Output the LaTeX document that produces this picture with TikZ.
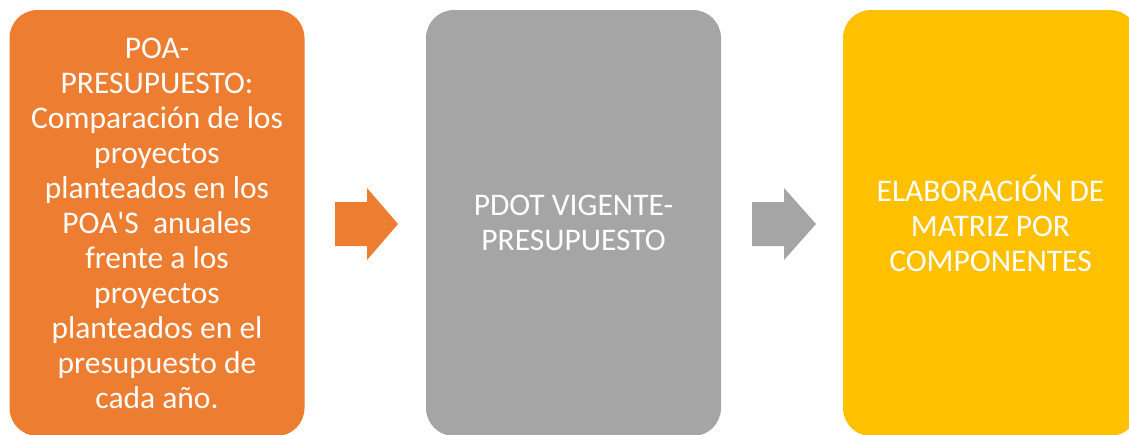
\documentclass[tikz,border=0pt]{standalone}
\usepackage{fontspec}
\setmainfont{Carlito}[Ligatures=TeXOff]
\definecolor{boxorange}{HTML}{ED7D31}
\definecolor{boxgray}{HTML}{A5A5A5}
\definecolor{boxyellow}{HTML}{FFC000}
\begin{document}
\begin{tikzpicture}[x=1pt,y=-1pt,
  panel/.style={rectangle, rounded corners=28pt, minimum width=295pt, minimum height=426pt,
    inner sep=0pt, text=white, align=center,
    font=\fontsize{31.5pt}{35pt}\selectfont},
  blockarrow/.style={draw=none}]
\useasboundingbox (0,0) rectangle (1129,434);
\node[panel, fill=boxorange] (a) at (157,223) {POA-\\PRESUPUESTO:\\Comparación de los\\proyectos\\planteados en los\\POA'S~~anuales\\frente a los\\proyectos\\planteados en el\\presupuesto de\\cada año.};
\node[panel, fill=boxgray] (b) at (573.5,223) {PDOT VIGENTE-\\PRESUPUESTO};
\node[panel, fill=boxyellow] (c) at (990.5,223) {ELABORACIÓN DE\\MATRIZ POR\\COMPONENTES};
\fill[boxorange] (335,202) -- (367,202) -- (367,188) -- (398,224) -- (367,260) -- (367,246) -- (335,246) -- cycle;
\fill[boxgray] (752,202) -- (784,202) -- (784,188) -- (816,224) -- (784,260) -- (784,246) -- (752,246) -- cycle;
\end{tikzpicture}
\end{document}
